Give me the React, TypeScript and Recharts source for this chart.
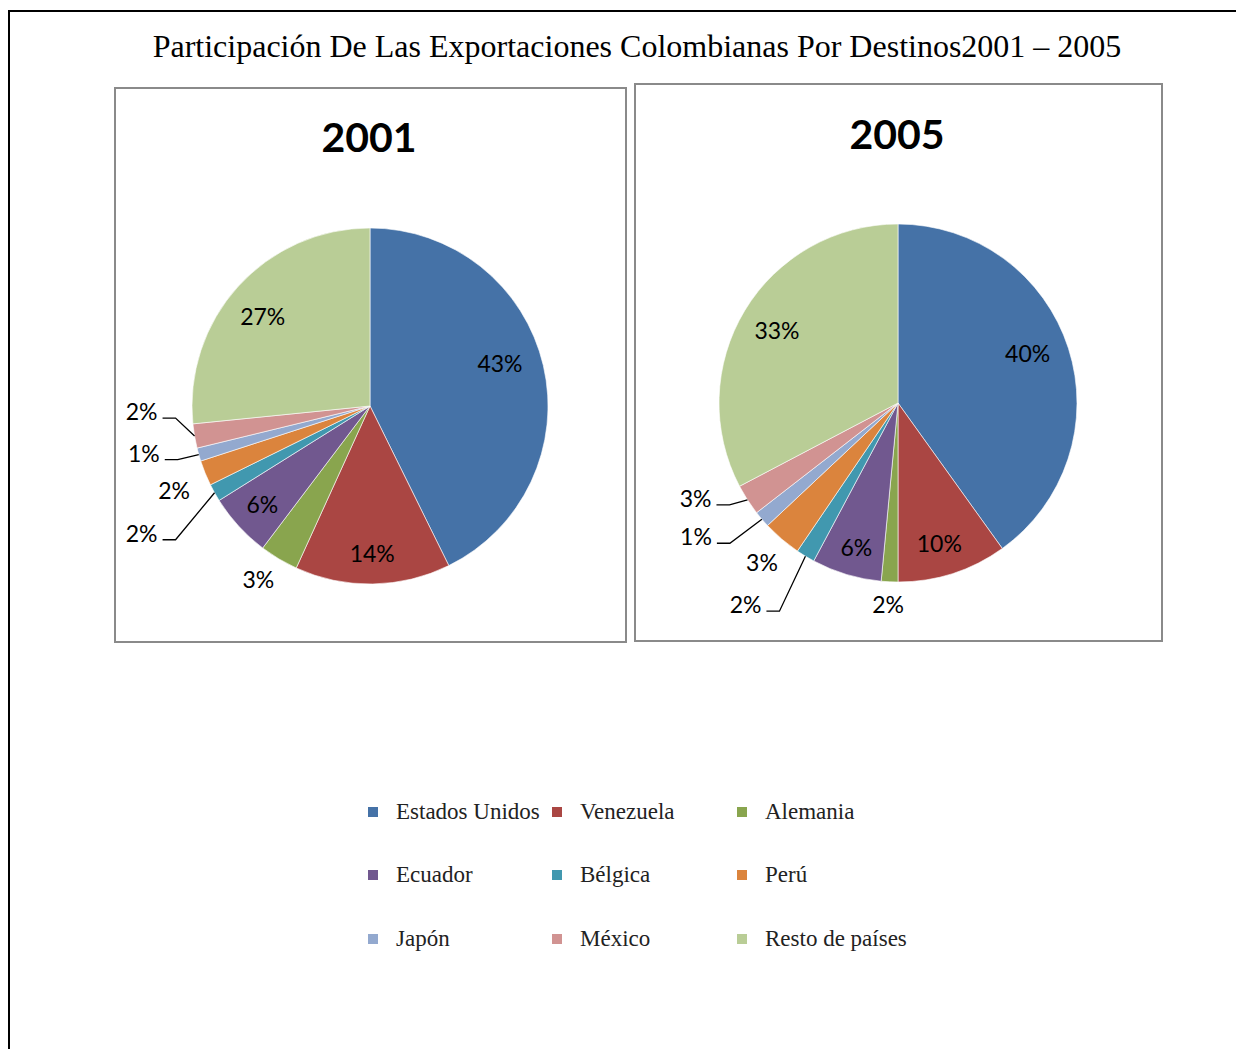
import React from 'react';
import { PieChart, Pie, Cell } from 'recharts';

// categories and colours (Excel 2007 default palette)
const categories = ['Estados Unidos', 'Venezuela', 'Alemania', 'Ecuador', 'Bélgica', 'Perú', 'Japón', 'México', 'Resto de países'];
const colors = ['#4572A7', '#AA4643', '#89A54E', '#71588F', '#4198AF', '#DB843D', '#93A9CF', '#D19392', '#B9CD96'];

// shares
const values2001 = [42.7, 14.1, 3.5, 5.8, 1.6, 2.3, 1.2, 2.2, 26.6];
const labels2001 = ['43%', '14%', '3%', '6%', '2%', '2%', '1%', '2%', '27%'];
const values2005 = [40.1, 9.9, 1.5, 6.3, 1.7, 3.5, 1.5, 2.8, 32.7];
const labels2005 = ['40%', '10%', '2%', '6%', '2%', '3%', '1%', '3%', '33%'];

const data2001 = categories.map((name, i) => ({ name, value: values2001[i] }));
const data2005 = categories.map((name, i) => ({ name, value: values2005[i] }));

type Place = { m: 'in' | 'out' | 'lead'; dx?: number; dy?: number };

// label placement (style only): inside / outside with a small nudge, or with a leader line
const place2001: Place[] = [
  { m: 'in', dx: -7, dy: -11 }, { m: 'in', dy: 6 }, { m: 'out', dx: -5, dy: -6 }, { m: 'in', dx: -4, dy: 3 },
  { m: 'lead', dx: -57, dy: 40 }, { m: 'out', dx: -3, dy: 6 },
  { m: 'lead', dx: -39, dy: -2 }, { m: 'lead', dx: -37, dy: -25 }, { m: 'in', dx: -3, dy: 4 },
];
const place2005: Place[] = [
  { m: 'in', dx: -5, dy: -7 }, { m: 'in', dx: -2, dy: 5 }, { m: 'out', dy: -8 }, { m: 'in', dx: -1, dy: 9 },
  { m: 'lead', dx: -44, dy: 48 }, { m: 'out' },
  { m: 'lead', dx: -50, dy: 17 }, { m: 'lead', dx: -36, dy: -2 }, { m: 'in' },
];

const labelFont = { fontFamily: 'Lato, sans-serif', fontSize: 23, fill: '#000' };

const makeLabel = (texts: string[], place: Place[]) => (props: any) => {
  const { cx, cy, midAngle, outerRadius, index } = props;
  const rad = (-midAngle * Math.PI) / 180;
  const p = place[index];
  if (p.m !== 'lead') {
    const r = outerRadius * (p.m === 'in' ? 0.79 : 1.17);
    return (
      <text
        key={index}
        x={cx + r * Math.cos(rad) + (p.dx || 0)}
        y={cy + r * Math.sin(rad) + (p.dy || 0)}
        textAnchor="middle"
        dominantBaseline="central"
        {...labelFont}
      >
        {texts[index]}
      </text>
    );
  }
  const ex = cx + outerRadius * Math.cos(rad);
  const ey = cy + outerRadius * Math.sin(rad);
  const tx = ex + (p.dx || 0);
  const ty = ey + (p.dy || 0);
  return (
    <g key={index}>
      <polyline points={`${ex},${ey} ${tx + 18},${ty + 7} ${tx + 5},${ty + 7}`} fill="none" stroke="#000" strokeWidth={1.3} />
      <text x={tx} y={ty} textAnchor="end" dominantBaseline="central" {...labelFont}>
        {texts[index]}
      </text>
    </g>
  );
};

const panel = (left: number, top: number, width: number, height: number): React.CSSProperties => ({
  position: 'absolute', left, top, width, height, border: '2px solid #8a8a8a', boxSizing: 'border-box', background: '#fff',
});

const yearTitle = (center: number, top: number): React.CSSProperties => ({
  position: 'absolute', left: center - 100, top, width: 200, textAlign: 'center',
  fontFamily: 'Lato, sans-serif', fontWeight: 700, fontSize: 41, lineHeight: '41px', color: '#000',
});

const legendCols = [360, 544, 729];
const legendRows = [804, 867, 931];

export default function App() {
  return (
    <div style={{ position: 'relative', width: 1236, height: 1041, overflow: 'hidden', background: '#fff' }}>
      <div style={{ position: 'absolute', left: 0, top: 2, width: 1300, height: 1100, borderLeft: '2px solid #000', borderTop: '2px solid #000' }} />
      <div style={{ position: 'absolute', left: 0, top: 20, width: 1258, textAlign: 'center', fontFamily: '"Liberation Serif", serif', fontSize: 32, lineHeight: '36px', color: '#000' }}>
        Participación De Las Exportaciones Colombianas Por Destinos2001 – 2005
      </div>
      <div style={panel(106, 79, 513, 556)} />
      <div style={panel(626, 75, 529, 559)} />
      <div style={yearTitle(361, 108)}>2001</div>
      <div style={yearTitle(889, 105)}>2005</div>
      <div style={{ position: 'absolute', left: 0, top: 0 }}>
        <PieChart width={1236} height={700} margin={{ top: 0, right: 0, bottom: 0, left: 0 }}>
          <Pie
            data={data2001}
            dataKey="value"
            cx={362}
            cy={398}
            outerRadius={178}
            startAngle={90}
            endAngle={-270}
            stroke="#ffffff"
            strokeWidth={0.6}
            labelLine={false}
            label={makeLabel(labels2001, place2001)}
            isAnimationActive={false}
          >
            {data2001.map((d, i) => <Cell key={d.name} fill={colors[i]} />)}
          </Pie>
          <Pie
            data={data2005}
            dataKey="value"
            cx={890}
            cy={395}
            outerRadius={179}
            startAngle={90}
            endAngle={-270}
            stroke="#ffffff"
            strokeWidth={0.6}
            labelLine={false}
            label={makeLabel(labels2005, place2005)}
            isAnimationActive={false}
          >
            {data2005.map((d, i) => <Cell key={d.name} fill={colors[i]} />)}
          </Pie>
        </PieChart>
      </div>
      {categories.map((name, i) => (
        <div key={name} style={{ position: 'absolute', left: legendCols[i % 3], top: legendRows[Math.floor(i / 3)] - 15, height: 30, display: 'flex', alignItems: 'center' }}>
          <span style={{ display: 'inline-block', width: 10, height: 10, background: colors[i], marginRight: 18 }} />
          <span style={{ fontFamily: '"Liberation Serif", serif', fontSize: 23, color: '#222', whiteSpace: 'nowrap' }}>{name}</span>
        </div>
      ))}
    </div>
  );
}
